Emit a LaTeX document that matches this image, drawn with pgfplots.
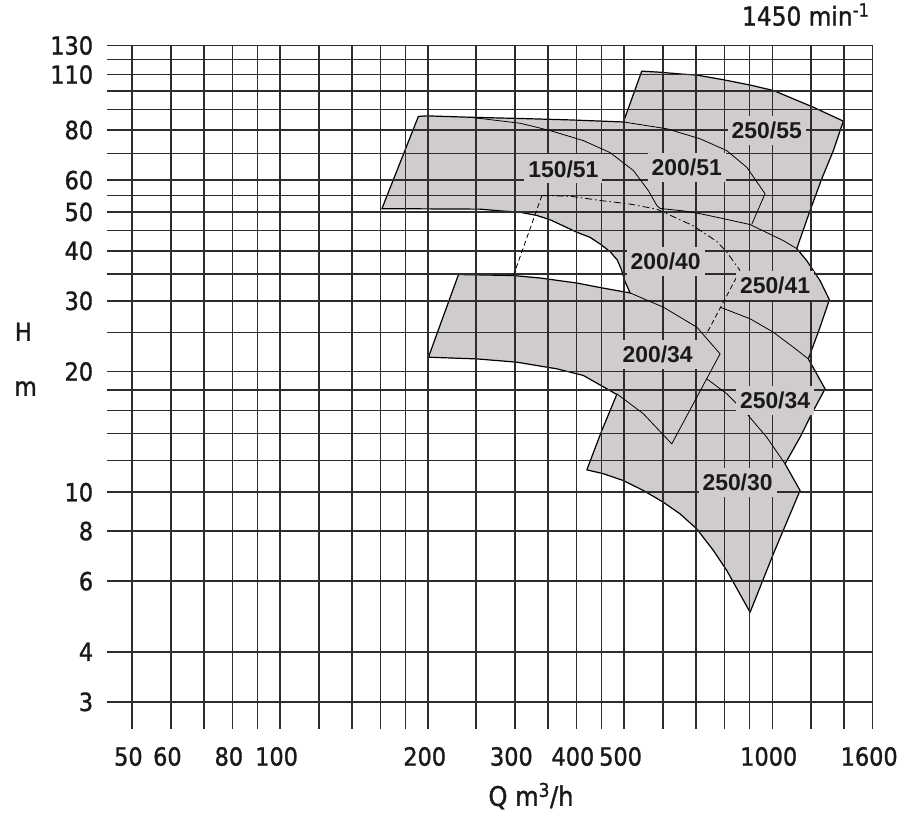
\documentclass[border=0pt]{standalone}
\usepackage{fontspec}
\setmainfont{Liberation Sans}
\newfontfamily\condfont{DejaVu Sans Condensed}[FakeBold=1.2]
\usepackage{pgfplots}
\pgfplotsset{compat=1.18}
\definecolor{regionfill}{RGB}{208,204,204}
\definecolor{gridcol}{RGB}{45,45,45}
\definecolor{textcol}{RGB}{25,25,25}
\tikzset{
  lab/.style={fill=regionfill, font=\bfseries\fontsize{23}{27}\selectfont, text=textcol, inner xsep=4bp, inner ysep=6bp},
  innerline/.style={draw=black, line width=0.8bp, line join=round},
}
\begin{document}
\begin{tikzpicture}
\begin{axis}[
  at={(107bp,87.3bp)}, anchor=south west,
  width=765.7bp, height=683bp, scale only axis,
  set layers,
  xmode=log, ymode=log,
  xmin=44.5, xmax=1600, ymin=2.575, ymax=130,
  axis line style={draw=none},
  major tick length=0pt, minor tick length=0pt,
  xtick={50,60,70,80,90,100,120,140,160,180,200,250,300,350,400,450,500,600,700,800,900,1000,1200,1400,1600},
  xticklabels={50,60,,80,,100,,,,,200,,300,,400,,500,,,,,1000,,,1600},
  ytick={3,4,6,8,10,12,14,16,18,20,25,30,35,40,45,50,55,60,70,80,90,100,110,120,130},
  yticklabels={3,4,6,8,10,,,,,20,,30,,40,,50,,60,,80,,,110,,130},
  grid=major,
  major grid style={line width=1.5bp, draw=gridcol},
  tick label style={font=\condfont\fontsize{25}{30}\selectfont, text=textcol},
  xticklabel style={anchor=center, yshift=-28bp, xshift=-3.5bp},
  yticklabel style={anchor=east, inner sep=0pt, xshift=-13.7bp},
  xlabel={Q m\textsuperscript{3}/h},
  xlabel style={at={(axis description cs:0.5537,-0.1132)}, anchor=base, font=\condfont\fontsize{27}{32}\selectfont, text=textcol},
  ylabel={H},
  ylabel style={rotate=-90, at={(axis description cs:-0.1093,0.5676)}, anchor=base, font=\condfont\fontsize{25}{30}\selectfont, text=textcol},
  title={1450 min\textsuperscript{-1}},
  title style={at={(axis description cs:0.9126,1.0205)}, anchor=base, font=\condfont\fontsize{26}{31}\selectfont, text=textcol},
  clip=false,
]
% outer boundary of the shaded field
\addplot[fill=regionfill, draw=black, line width=1.2bp, line join=round, on layer=axis background] coordinates {
(161.0,50.9) (191.0,86.5) (198.7,86.8) (243.3,86.1) (307.4,85.5) (388.4,84.8) (498.4,83.8)
(543.1,112.2) (591.7,111.5) (649.7,110.4) (702.5,109.7) (795.6,106.8) (901.5,103.6) (1005.2,100.4)
(1103.8,95.7) (1212.0,91.2) (1394.6,84.2) (1331.0,71.1) (1260.6,60.5) (1193.5,50.4) (1121.4,40.5)
(1175.1,37.8) (1250.6,33.7) (1306.3,30.2) (1250.6,25.8) (1184.0,21.5) (1280.3,18.1) (1212.0,15.98)
(1138.9,13.71) (1061.7,11.77) (1138.9,10.10) (1005.2,7.02) (901.5,5.02) (808.4,6.38) (759.2,7.16)
(702.5,8.10) (649.7,8.83) (600.9,9.44) (547.2,10.10) (498.4,10.69) (453.9,11.12) (420.0,11.37)
(450.5,14.25) (483.2,17.53) (413.3,19.55) (365.0,20.31) (302.7,21.10) (251.0,21.5) (200.2,21.71)
(230.4,34.90) (251.0,34.84) (297.9,34.70) (337.6,34.21) (400.8,33.24) (446.9,32.39) (514.3,31.4)
(502.3,33.5) (493.0,36.1) (483.9,38.0) (468.3,39.8) (446.9,41.6) (426.5,43.2) (400.8,44.5)
(353.7,47.8) (332.4,49.0) (307.4,49.9) (279.9,50.3) (255.0,50.8) (186.6,50.9)
} -- cycle;
% internal dividing curves
\addplot[innerline] coordinates {(243.3,86.1) (307.4,83.2) (353.7,79.8) (413.3,75.3) (468.3,70.3) (522.3,63.4) (560.2,56.5) (582.6,51.9) (591.7,51.0) (658.9,50.3) (713.4,49.5) (808.4,47.9) (901.5,46.5) (1053.3,42.4) (1121.4,40.5)};
\addplot[innerline] coordinates {(498.4,83.8) (610.6,80.6) (713.4,76.1) (808.4,71.1) (887.7,64.6) (967.0,55.5) (908.7,46.6)};
\addplot[innerline, dash pattern=on 7bp off 3bp on 1.5bp off 3bp] coordinates {(340.3,54.9) (358.7,54.9) (393.9,54.6) (446.9,53.4) (514.3,52.3) (582.6,50.8) (690.5,46.2) (771.4,42.2) (808.4,39.7) (860.3,35.7)};
\addplot[innerline, dash pattern=on 5bp off 3bp] coordinates {(340.3,54.9) (297.9,34.70)};
\addplot[innerline, dash pattern=on 5bp off 3bp] coordinates {(860.3,35.7) (733.7,24.7)};
\addplot[innerline] coordinates {(783.4,28.93) (808.4,28.51) (901.5,27.07) (1005.2,25.06) (1103.8,22.99) (1184.0,21.5)};
\addplot[innerline] coordinates {(514.3,31.4) (600.9,28.93) (702.5,25.8) (783.4,22.13) (625.0,13.20) (547.2,15.69) (483.2,17.60)};
\addplot[innerline] coordinates {(736.1,19.18) (808.4,17.60) (887.7,15.69) (974.7,13.71) (1061.7,11.77)};
% pump size labels
\node[lab] at (axis cs:376.4,64.0) {150/51};
\node[lab] at (axis cs:670.4,64.6) {200/51};
\node[lab] at (axis cs:974.7,79.8) {250/55};
\node[lab] at (axis cs:607.1,37.6) {200/40};
\node[lab] at (axis cs:1013.2,32.8) {250/41};
\node[lab] at (axis cs:584.8,22.0) {200/34};
\node[lab] at (axis cs:1013.2,16.9) {250/34};
\node[lab] at (axis cs:850.2,10.6) {250/30};
\node[anchor=base, font=\condfont\fontsize{26}{31}\selectfont, text=textcol] at (axis description cs:-0.1064,0.4871) {m};
\end{axis}
\path (0,0) rectangle (905bp,815bp);
\end{tikzpicture}
\end{document}
